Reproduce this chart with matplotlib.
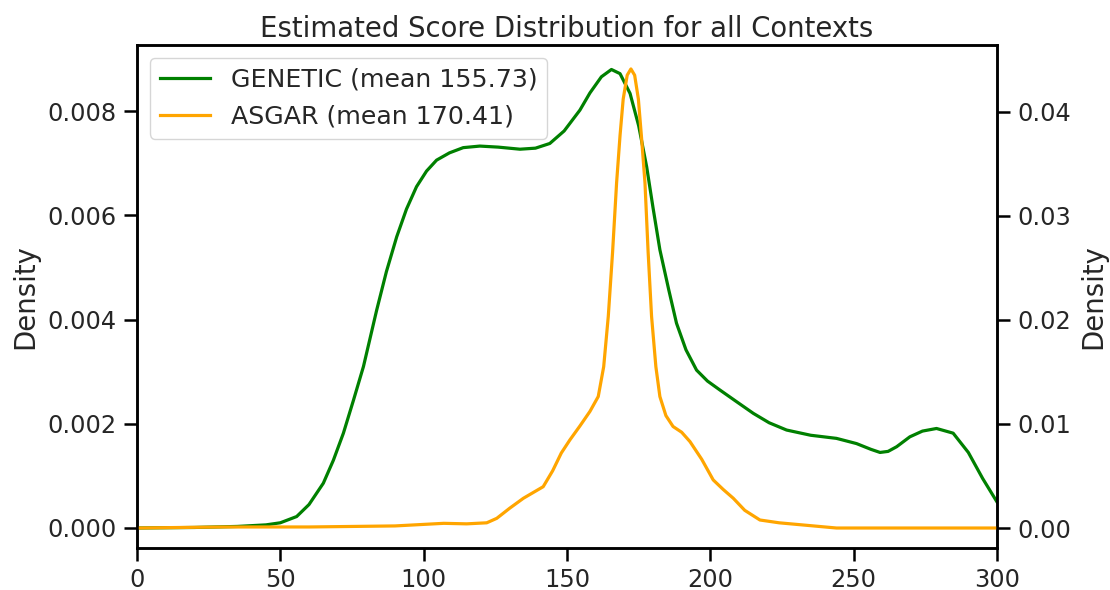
import matplotlib
matplotlib.use("Agg")
import matplotlib.pyplot as plt

# GENETIC density (left axis)
gen_x = [0, 20, 35, 45, 50, 55.7, 60, 65, 68.5, 72, 75.5, 79, 83.6, 87, 90.6, 94, 97.5, 101,
         104.5, 109, 113.8, 119.6, 126, 133.6, 139, 144, 149, 154.5, 158, 162, 165.5,
         168.5, 172, 175, 177.8, 180, 182.4, 185.5, 188.2, 191.5, 195.2, 199, 203.3, 209,
         215, 220.5, 226.6, 235, 244, 251, 256, 259.2, 262, 265, 269.6, 274, 278.9, 284.7,
         290, 295, 300]
gen_y = [0.0, 0.00001, 0.00003, 0.00006, 0.0001, 0.00022, 0.00045, 0.00086, 0.0013, 0.00182,
         0.00245, 0.0031, 0.00418, 0.00492, 0.00559, 0.00612, 0.00655, 0.00685,
         0.00706, 0.0072, 0.0073, 0.00733, 0.00731, 0.00727, 0.00729, 0.00738, 0.00762, 0.00802,
         0.00835, 0.00866, 0.0088, 0.00872, 0.00834, 0.00772, 0.00693, 0.00615, 0.00534, 0.00457,
         0.00393, 0.00342, 0.00303, 0.00282, 0.00265, 0.00243,
         0.0022, 0.00202, 0.00188, 0.00178, 0.00172, 0.00162, 0.00151, 0.00145, 0.00147, 0.00156,
         0.00175, 0.00186, 0.00191, 0.00182, 0.00145, 0.00095, 0.0005]

# ASGAR density (right axis)
asg_x = [0, 30, 60, 90, 107, 115, 122, 125.5, 130, 134.8, 141.7, 145, 148, 151, 154.5, 158,
         160.9, 162.8, 164.4, 165.9, 167.3, 168.5, 169.6, 171, 172.3, 173.6, 174.9, 176, 177.2,
         178.3, 179.5, 181, 182.4, 184.5, 187, 190, 192.9, 197, 201, 204.5, 208, 212,
         217.3, 224, 232.4, 244, 260, 280, 300]
asg_y = [0.0, 0.0001, 0.0001, 0.0002, 0.00045, 0.0004, 0.0005, 0.00093, 0.0019, 0.00286,
         0.00397, 0.0055, 0.0072, 0.00846, 0.0098, 0.0112,
         0.01263, 0.0155, 0.02033, 0.0265, 0.03316, 0.0377, 0.0412, 0.0435, 0.0441, 0.0435,
         0.0412, 0.0375, 0.03316, 0.0265, 0.02033, 0.0155, 0.01263, 0.0108, 0.00975, 0.0092,
         0.0083, 0.0066, 0.00462, 0.0037, 0.00286, 0.0017,
         0.00077, 0.0005, 0.00029, 0.0, 0.0, 0.0, 0.0]

gen_label = "GENETIC (mean 155.73)"
asg_label = "ASGAR (mean 170.41)"

plt.rcParams["font.family"] = "DejaVu Sans"
plt.rcParams["text.color"] = "#262626"
plt.rcParams["axes.labelcolor"] = "#262626"
tick_fs, leg_fs, lab_fs = 17.3, 18.2, 19.8

fig = plt.figure(figsize=(11.1, 5.9), dpi=100)
ax = fig.add_axes([137/1110, 1 - 548/590, (997-137)/1110, (548-45)/590])
ax2 = ax.twinx()

l1, = ax.plot(gen_x, gen_y, color="green", lw=2.3, label=gen_label)
l2, = ax2.plot(asg_x, asg_y, color="orange", lw=2.3, label=asg_label)

ax.set_xlim(0, 300)
ax.set_ylim(-0.000384, 0.00927)
ax2.set_ylim(-0.00192, 0.0464)
ax.set_xticks([0, 50, 100, 150, 200, 250, 300])
ax.set_yticks([0, 0.002, 0.004, 0.006, 0.008])
ax2.set_yticks([0, 0.01, 0.02, 0.03, 0.04])
ax.set_yticklabels(["0.000", "0.002", "0.004", "0.006", "0.008"])
ax2.set_yticklabels(["0.00", "0.01", "0.02", "0.03", "0.04"])

for a in (ax, ax2):
    a.tick_params(labelsize=tick_fs, length=9.5, width=1.8, color="black",
                  labelcolor="#262626", pad=5)
    for s in a.spines.values():
        s.set_linewidth(1.8)
ax.set_ylabel("Density", fontsize=lab_fs, labelpad=6)
ax2.set_ylabel("Density", fontsize=lab_fs, labelpad=6)
ax.set_title("Estimated Score Distribution for all Contexts", fontsize=lab_fs, pad=6)

ax.legend(handles=[l1, l2], loc="upper left", fontsize=leg_fs, framealpha=0.8,
          handlelength=2.0, borderpad=0.4)

fig.savefig("out.png", dpi=100, facecolor="white")
